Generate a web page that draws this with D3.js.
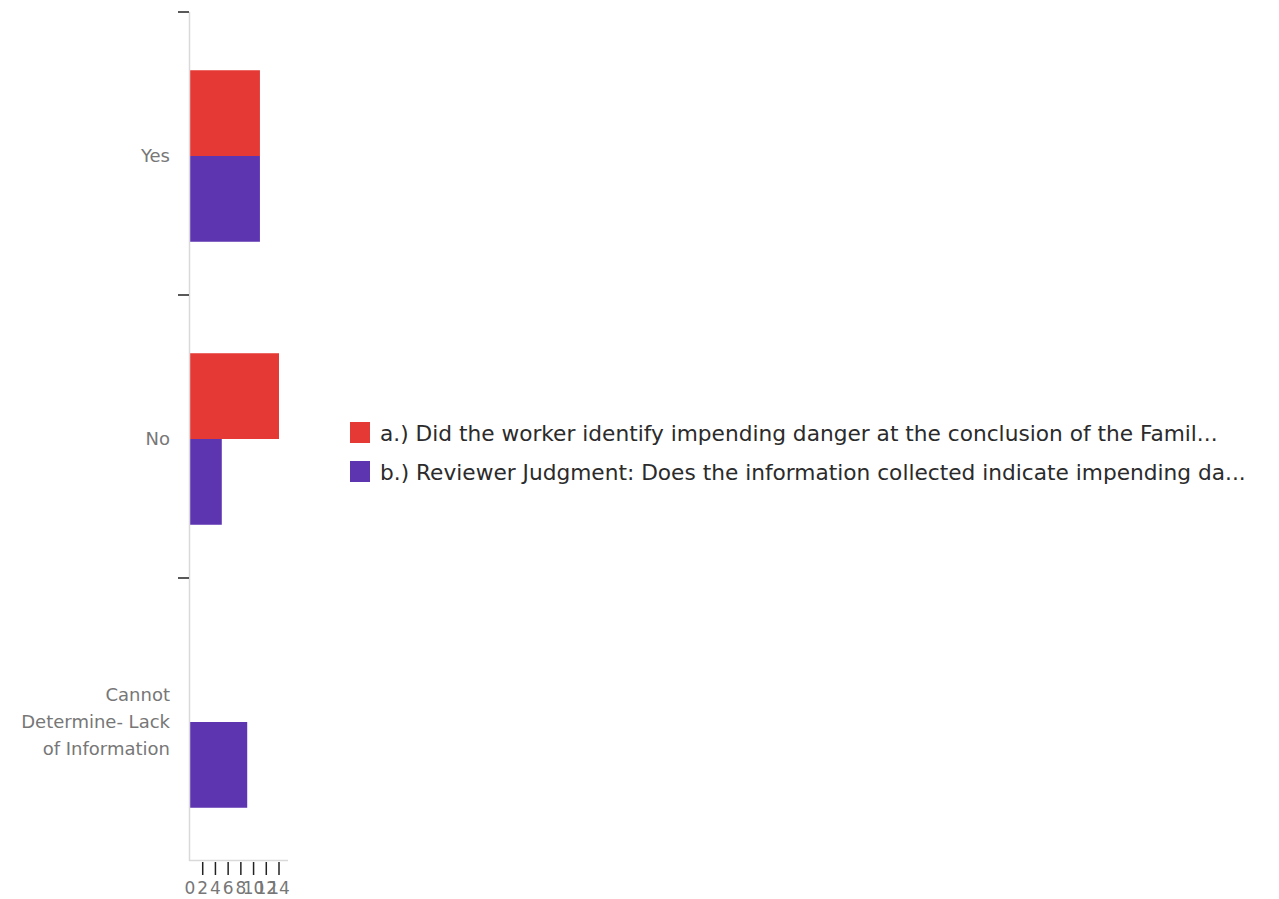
<!DOCTYPE html>
<html>
<head>
<meta charset="utf-8">
<script src="https://cdn.jsdelivr.net/npm/d3@7"></script>
<style>
  body { margin: 0; background: #fff; }
  text { font-family: "DejaVu Sans", sans-serif; }
</style>
</head>
<body>
<script>
let categories = ["Yes", "No", "Cannot Determine- Lack of Information"]
let seriesNames = [
  "a.) Did the worker identify impending danger at the conclusion of the Famil...",
  "b.) Reviewer Judgment: Does the information collected indicate impending da..."
]
let seriesA = [11, 14, 0]
let seriesB = [11, 5, 9]
let xTicks = [0, 2, 4, 6, 8, 10, 12, 14]
let colors = ["#e53935", "#5e35b1"]

let width = 1279, height = 899
let svg = d3.select("body").append("svg").attr("width", width).attr("height", height)

let x = d3.scaleLinear().domain([0, 14]).range([190, 279])
let y0 = d3.scaleBand().domain(categories).range([14.5, 863.5])
let y1 = d3.scaleBand().domain([0, 1]).range([0, y0.bandwidth()]).paddingOuter(0.65)

let data = categories.map((c, i) => ({ cat: c, vals: [seriesA[i], seriesB[i]] }))

// bars
svg.append("g").selectAll("g")
  .data(data)
  .join("g")
  .attr("transform", d => "translate(0," + y0(d.cat) + ")")
  .selectAll("rect")
  .data(d => d.vals)
  .join("rect")
  .attr("x", x(0))
  .attr("y", (d, i) => y1(i))
  .attr("width", d => x(d) - x(0))
  .attr("height", y1.bandwidth())
  .attr("fill", (d, i) => colors[i])

// axis lines
svg.append("line").attr("x1", 189.5).attr("x2", 189.5).attr("y1", 12).attr("y2", 861)
  .attr("stroke", "#d9d9d9").attr("stroke-width", 1.5)
svg.append("line").attr("x1", 189).attr("x2", 288).attr("y1", 860.5).attr("y2", 860.5)
  .attr("stroke", "#d9d9d9").attr("stroke-width", 1.5)

// y ticks at band boundaries
svg.append("g").selectAll("line")
  .data(categories)
  .join("line")
  .attr("x1", 178).attr("x2", 189)
  .attr("y1", d => y0(d) - 2.5).attr("y2", d => y0(d) - 2.5)
  .attr("stroke", "#222").attr("stroke-width", 1.5)

// y labels with wrapping
function wrap(str, maxW, fontSize) {
  let words = str.split(" "), lines = [], cur = ""
  let tmp = svg.append("text").attr("font-size", fontSize)
  words.forEach(w => {
    let test = cur ? cur + " " + w : w
    tmp.text(test)
    if (tmp.node().getComputedTextLength() > maxW && cur) { lines.push(cur); cur = w }
    else cur = test
  })
  lines.push(cur)
  tmp.remove()
  return lines
}
let lineH = 27
categories.forEach(c => {
  let lines = wrap(c, 160, 18)
  let cy = y0(c) + y0.bandwidth() / 2
  let t = svg.append("text")
    .attr("text-anchor", "end")
    .attr("font-size", 18)
    .attr("fill", "#777")
  lines.forEach((l, i) => {
    t.append("tspan")
      .attr("x", 170)
      .attr("y", cy - (lines.length - 1) * lineH / 2 + i * lineH)
      .attr("dy", "0.35em")
      .text(l)
  })
})

// x axis ticks
let xg = svg.append("g")
xg.selectAll("line")
  .data(xTicks.filter(d => d > 0))
  .join("line")
  .attr("x1", d => x(d)).attr("x2", d => x(d))
  .attr("y1", 862).attr("y2", 875)
  .attr("stroke", "#222").attr("stroke-width", 1.5)
xg.selectAll("text")
  .data(xTicks)
  .join("text")
  .attr("x", d => x(d))
  .attr("y", 888)
  .attr("dy", "0.35em")
  .attr("text-anchor", "middle")
  .attr("font-size", 17)
  .attr("fill", "#777")
  .text(d => d)

// legend
let lg = svg.append("g").selectAll("g")
  .data(seriesNames)
  .join("g")
  .attr("transform", (d, i) => "translate(350," + (422 + i * 39) + ")")
lg.append("rect").attr("width", 20).attr("height", 21).attr("fill", (d, i) => colors[i])
lg.append("text")
  .attr("x", 30).attr("y", 11).attr("dy", "0.35em")
  .attr("font-size", 21.7)
  .attr("fill", "#2b2b2b")
  .text(d => d)
</script>
</body>
</html>
